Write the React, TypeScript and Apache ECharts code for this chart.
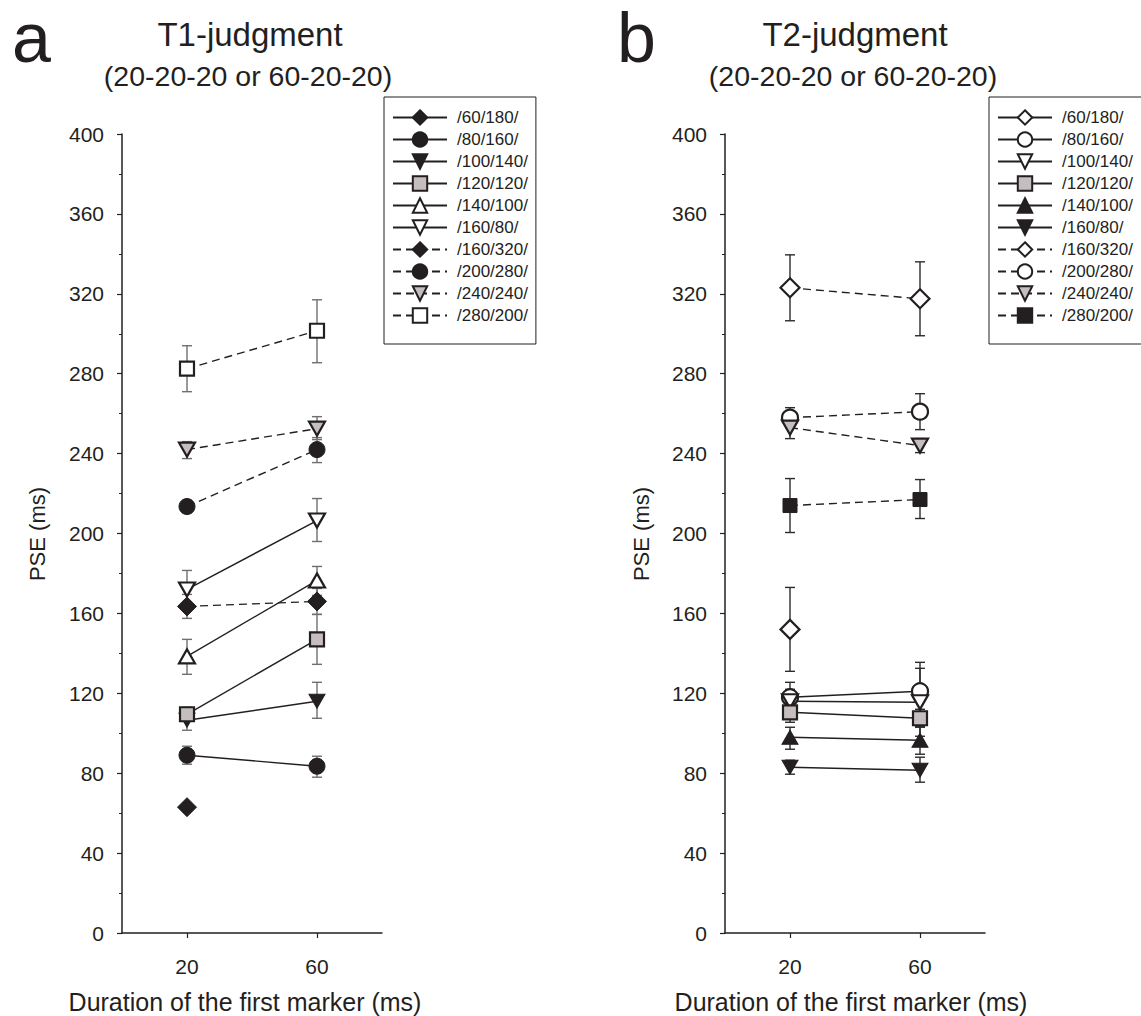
import React, { useEffect, useRef } from "react";
import * as echarts from "echarts";

const categories = ["20", "60"];

const conditionNames = [
  "/60/180/", "/80/160/", "/100/140/", "/120/120/", "/140/100/",
  "/160/80/", "/160/320/", "/200/280/", "/240/240/", "/280/200/",
];

// T1-judgment: mean PSE at 20 and 60 ms
const t1Mean: (number | null)[][] = [
  [63, null], [89, 83.5], [106.5, 116], [109.5, 147], [138.5, 176.5],
  [172, 206.5], [163.5, 166], [213.5, 242], [242, 252.5], [282.5, 301.5],
];
const t1Low: (number | null)[][] = [
  [61, null], [84.5, 78], [101.5, 107.5], [106, 134.5], [129.5, 169],
  [163, 196], [157.5, 159.5], [210.5, 235.5], [237.5, 247], [271, 285.5],
];
const t1High: (number | null)[][] = [
  [65, null], [93.5, 88.5], [111, 125.5], [113, 159.5], [147, 183.5],
  [181.5, 217.5], [169.5, 172.5], [216.5, 248], [246, 258.5], [294, 317],
];

// T2-judgment: mean PSE at 20 and 60 ms
const t2Mean: (number | null)[][] = [
  [152, null], [118, 121], [116, 115.5], [110.5, 107.5], [98, 96.5],
  [83, 81.5], [323, 317.5], [258, 261], [253, 244], [214, 217],
];
const t2Low: (number | null)[][] = [
  [131, null], [111, 106.5], [110, 98.5], [105.5, 103], [92, 89.5],
  [79.5, 75.5], [306.5, 299], [253, 252], [247.5, 240.5], [200.5, 207.5],
];
const t2High: (number | null)[][] = [
  [173, null], [125.5, 135.5], [122, 132.5], [115.5, 112], [103, 103.5],
  [86.5, 88], [339.5, 336], [263, 270], [258, 247.5], [227.5, 227],
];

const BLACK = "#231f20";
const GRAY = "#c6bebe";
const WHITE = "#ffffff";
const FONT = "'Liberation Sans', Arial, Helvetica, sans-serif";

type Style = { symbol: string; rotate: number; fill: string; dashed: boolean; size: number[] };

const DIA = [19, 19];
const CIR = [16, 16];
const TRI = [16, 14];
const SQR = [14, 14];

const t1Styles: Style[] = [
  { symbol: "diamond", rotate: 0, fill: BLACK, dashed: false, size: DIA },
  { symbol: "circle", rotate: 0, fill: BLACK, dashed: false, size: CIR },
  { symbol: "triangle", rotate: 180, fill: BLACK, dashed: false, size: TRI },
  { symbol: "rect", rotate: 0, fill: GRAY, dashed: false, size: SQR },
  { symbol: "triangle", rotate: 0, fill: WHITE, dashed: false, size: TRI },
  { symbol: "triangle", rotate: 180, fill: WHITE, dashed: false, size: TRI },
  { symbol: "diamond", rotate: 0, fill: BLACK, dashed: true, size: DIA },
  { symbol: "circle", rotate: 0, fill: BLACK, dashed: true, size: CIR },
  { symbol: "triangle", rotate: 180, fill: GRAY, dashed: true, size: TRI },
  { symbol: "rect", rotate: 0, fill: WHITE, dashed: true, size: SQR },
];

const t2Styles: Style[] = [
  { symbol: "diamond", rotate: 0, fill: WHITE, dashed: false, size: DIA },
  { symbol: "circle", rotate: 0, fill: WHITE, dashed: false, size: CIR },
  { symbol: "triangle", rotate: 180, fill: WHITE, dashed: false, size: TRI },
  { symbol: "rect", rotate: 0, fill: GRAY, dashed: false, size: SQR },
  { symbol: "triangle", rotate: 0, fill: BLACK, dashed: false, size: TRI },
  { symbol: "triangle", rotate: 180, fill: BLACK, dashed: false, size: TRI },
  { symbol: "diamond", rotate: 0, fill: WHITE, dashed: true, size: DIA },
  { symbol: "circle", rotate: 0, fill: WHITE, dashed: true, size: CIR },
  { symbol: "triangle", rotate: 180, fill: GRAY, dashed: true, size: TRI },
  { symbol: "rect", rotate: 0, fill: BLACK, dashed: true, size: SQR },
];

function buildPanel(
  prefix: string,
  axisIndex: number,
  means: (number | null)[][],
  lows: (number | null)[][],
  highs: (number | null)[][],
  styles: Style[],
  errColor: string
) {
  const series: any[] = [];
  conditionNames.forEach((name, i) => {
    const errData: any[] = [];
    means[i].forEach((m, j) => {
      if (m !== null && lows[i][j] !== null && highs[i][j] !== null) {
        errData.push([j, lows[i][j], highs[i][j]]);
      }
    });
    series.push({
      type: "custom",
      name: prefix + "err" + i,
      xAxisIndex: axisIndex,
      yAxisIndex: axisIndex,
      z: 1,
      silent: true,
      data: errData,
      encode: { x: 0, y: [1, 2] },
      renderItem: (params: any, api: any) => {
        const x = api.value(0);
        const lo = api.coord([x, api.value(1)]);
        const hi = api.coord([x, api.value(2)]);
        const w = 5;
        const st = { stroke: errColor, lineWidth: 1.4 };
        return {
          type: "group",
          children: [
            { type: "line", shape: { x1: lo[0], y1: lo[1], x2: hi[0], y2: hi[1] }, style: st },
            { type: "line", shape: { x1: lo[0] - w, y1: lo[1], x2: lo[0] + w, y2: lo[1] }, style: st },
            { type: "line", shape: { x1: hi[0] - w, y1: hi[1], x2: hi[0] + w, y2: hi[1] }, style: st },
          ],
        };
      },
    });
  });
  conditionNames.forEach((name, i) => {
    const s = styles[i];
    series.push({
      type: "line",
      name: prefix + name,
      xAxisIndex: axisIndex,
      yAxisIndex: axisIndex,
      z: 3,
      data: means[i].map((v) => (v === null ? "-" : v)),
      symbol: s.symbol,
      symbolSize: s.size,
      symbolRotate: s.rotate,
      showSymbol: true,
      showAllSymbol: true,
      connectNulls: false,
      itemStyle: { color: s.fill, borderColor: BLACK, borderWidth: s.fill === BLACK ? 1 : 2.2 },
      lineStyle: { color: BLACK, width: 1.4, type: s.dashed ? [8, 5] : "solid" },
      emphasis: { disabled: true },
    });
  });
  return series;
}

function makeAxes(left: number) {
  return {
    grid: { left, top: 134, width: 260, height: 799, containLabel: false },
    xAxis: {
      type: "category",
      data: categories,
      boundaryGap: true,
      axisLine: { show: true, lineStyle: { color: BLACK, width: 1.5 } },
      axisTick: { show: true, alignWithLabel: true, length: 5, inside: false, lineStyle: { color: BLACK, width: 1.2 } },
      axisLabel: { color: BLACK, fontSize: 21, fontFamily: FONT, margin: 23 },
      splitLine: { show: false },
    },
    yAxis: {
      type: "value",
      min: 0,
      max: 400,
      interval: 40,
      axisLine: { show: true, lineStyle: { color: BLACK, width: 1.5 } },
      axisTick: { show: true, length: 5, inside: false, lineStyle: { color: BLACK, width: 1.2 } },
      minorTick: { show: true, splitNumber: 2, length: 3, lineStyle: { color: BLACK, width: 1 } },
      axisLabel: { color: BLACK, fontSize: 21, fontFamily: FONT, margin: 18 },
      splitLine: { show: false },
      minorSplitLine: { show: false },
    },
  };
}

function makeLegend(prefix: string, left: number, padRight: number) {
  return {
    orient: "vertical",
    left,
    top: 97,
    data: conditionNames.map((n) => prefix + n),
    formatter: (name: string) => name.slice(prefix.length),
    itemWidth: 54,
    itemHeight: 18,
    itemGap: 5,
    padding: [12, padRight, 20, 8],
    borderColor: BLACK,
    borderWidth: 1,
    backgroundColor: "#fff",
    selectedMode: false,
    textStyle: { color: BLACK, fontSize: 17, fontFamily: FONT, padding: [0, 0, 0, 5] },
  };
}

export default function App() {
  const ref = useRef<HTMLDivElement>(null);
  useEffect(() => {
    document.body.style.margin = "0";
    if (!ref.current) return;
    const chart = echarts.init(ref.current, undefined, { renderer: "svg" });
    const a = makeAxes(122);
    const b = makeAxes(725);
    const option: any = {
      animation: false,
      backgroundColor: "#ffffff",
      grid: [a.grid, b.grid],
      xAxis: [{ ...a.xAxis, gridIndex: 0 }, { ...b.xAxis, gridIndex: 1 }],
      yAxis: [{ ...a.yAxis, gridIndex: 0 }, { ...b.yAxis, gridIndex: 1 }],
      legend: [makeLegend("a:", 384, 8), makeLegend("b:", 989, 30)],
      series: [
        ...buildPanel("a:", 0, t1Mean, t1Low, t1High, t1Styles, "#6f6f6f"),
        ...buildPanel("b:", 1, t2Mean, t2Low, t2High, t2Styles, "#2b2b2b"),
      ],
      graphic: [
        { type: "text", left: 12, top: 3, style: { text: "a", fontSize: 70, fontFamily: FONT, fill: BLACK } },
        { type: "text", x: 250, y: 34, style: { text: "T1-judgment", fontSize: 33, fontFamily: FONT, fill: BLACK, align: "center", verticalAlign: "middle" } },
        { type: "text", x: 248, y: 76, style: { text: "(20-20-20 or 60-20-20)", fontSize: 28.5, fontFamily: FONT, fill: BLACK, align: "center", verticalAlign: "middle" } },
        { type: "text", left: 617, top: 3, style: { text: "b", fontSize: 70, fontFamily: FONT, fill: BLACK } },
        { type: "text", x: 855, y: 34, style: { text: "T2-judgment", fontSize: 33, fontFamily: FONT, fill: BLACK, align: "center", verticalAlign: "middle" } },
        { type: "text", x: 853, y: 76, style: { text: "(20-20-20 or 60-20-20)", fontSize: 28.5, fontFamily: FONT, fill: BLACK, align: "center", verticalAlign: "middle" } },
        { type: "text", x: 37, y: 534, rotation: Math.PI / 2, style: { text: "PSE (ms)", fontSize: 22, fontFamily: FONT, fill: BLACK, align: "center", verticalAlign: "middle" } },
        { type: "text", x: 641, y: 534, rotation: Math.PI / 2, style: { text: "PSE (ms)", fontSize: 22, fontFamily: FONT, fill: BLACK, align: "center", verticalAlign: "middle" } },
        { type: "text", x: 245, y: 1002, style: { text: "Duration of the first marker (ms)", fontSize: 25, fontFamily: FONT, fill: BLACK, align: "center", verticalAlign: "middle" } },
        { type: "text", x: 851, y: 1002, style: { text: "Duration of the first marker (ms)", fontSize: 25, fontFamily: FONT, fill: BLACK, align: "center", verticalAlign: "middle" } },
      ],
    };
    chart.setOption(option);
    return () => chart.dispose();
  }, []);
  return <div ref={ref} style={{ width: 1141, height: 1016 }} />;
}
